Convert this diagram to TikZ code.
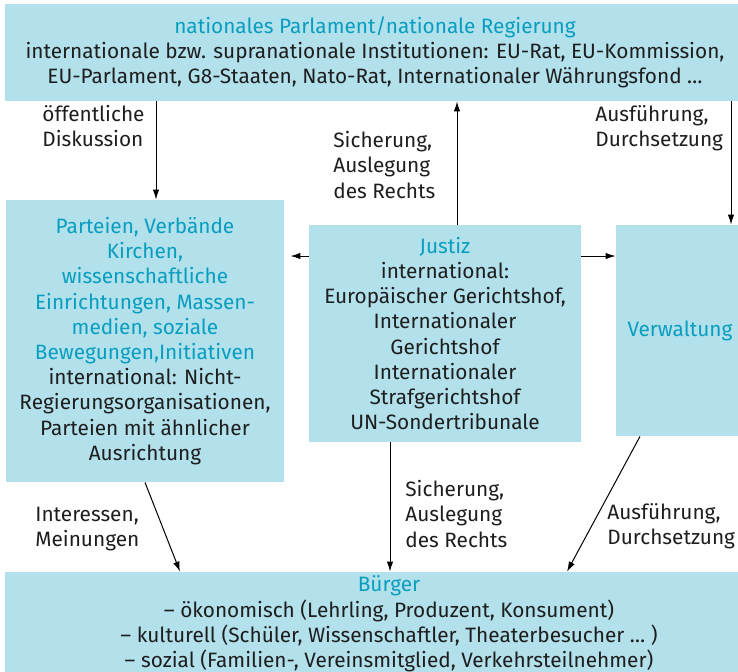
\documentclass[tikz,border=0pt]{standalone}
\usepackage{fontspec}
\setmainfont{Fira Sans}
\usetikzlibrary{arrows.meta, positioning, calc}
\definecolor{BoxFill}{RGB}{178,224,235}
\definecolor{TitleBlue}{RGB}{8,158,192}
\definecolor{TextDark}{RGB}{30,30,30}
\newcommand{\ttl}[1]{\textcolor{TitleBlue}{#1}}

\begin{document}
\begin{tikzpicture}[
    x=0.5pt, y=-0.5pt,
    every node/.style={font=\fontsize{10.4}{12.6}\selectfont, text=TextDark},
    box/.style={fill=BoxFill, draw=none, align=center, inner sep=0pt},
    lbl/.style={anchor=north west, align=left, inner sep=0pt},
    arr/.style={-{Latex[length=5pt,width=3.2pt]}, draw=black, line width=0.5pt}
  ]
    \clip (0,0) rectangle (738,671);
    % boxes
    \node[box, minimum width=370pt, minimum height=48.5pt] (parl) at (375,52.5)
      {\ttl{nationales Parlament/nationale Regierung}\\
       internationale bzw. supranationale Institutionen: EU-Rat, EU-Kommission,\\
       EU-Parlament, G8-Staaten, Nato-Rat, Internationaler Währungsfond …};
    \node[box, minimum width=139pt, minimum height=141pt] (verb) at (145,341)
      {\ttl{Parteien, Verbände}\\ \ttl{Kirchen,}\\ \ttl{wissenschaftliche}\\
       \ttl{Einrichtungen, Massen-}\\ \ttl{medien, soziale}\\
       \ttl{Bewegungen,Initiativen}\\ international: Nicht-\\
       Regierungsorganisationen,\\ Parteien mit ähnlicher\\ Ausrichtung};
    \node[box, minimum width=136pt, minimum height=108.5pt] (justiz) at (445,333.5)
      {\ttl{Justiz}\\ international:\\ Europäischer Gerichtshof,\\
       Internationaler\\ Gerichtshof\\ Internationaler\\ Strafgerichtshof\\
       UN-Sondertribunale};
    \node[box, minimum width=64pt, minimum height=105.5pt] (verw) at (680,330.5)
      {\ttl{Verwaltung}};
    \node[box, minimum width=384pt, minimum height=52pt] (buerger) at (389,624)
      {\ttl{Bürger}\\
       – ökonomisch (Lehrling, Produzent, Konsument)\\
       – kulturell (Schüler, Wissenschaftler, Theaterbesucher … )\\
       – sozial (Familien-, Vereinsmitglied, Verkehrsteilnehmer)};
    % arrows
    \draw[arr] (156,0 |- parl.south) -- (156,0 |- verb.north);
    \draw[arr] (457,0 |- justiz.north) -- (457,0 |- parl.south);
    \draw[arr] (731,0 |- parl.south) -- (731,0 |- verw.north);
    \draw[arr, shorten >=3pt] (justiz.west |- 0,256) -- (verb.east |- 0,256);
    \draw[arr] (justiz.east |- 0,256) -- (verw.west |- 0,256);
    \draw[arr] (145,0 |- verb.south) -- (180,0 |- buerger.north);
    \draw[arr] (390,0 |- justiz.south) -- (390,0 |- buerger.north);
    \draw[arr] (640,0 |- verw.south) -- (567,0 |- buerger.north);
    % labels
    \node[lbl] (l1) at (42,105) {öffentliche\\Diskussion};
    \node[lbl] (l2) at (333,131) {Sicherung,\\Auslegung\\des Rechts};
    \node[lbl] (l3) at (595,105) {Ausführung,\\Durchsetzung};
    \node[lbl] (l4) at (35,507) {Interessen,\\Meinungen};
    \node[lbl] (l5) at (405,480) {Sicherung,\\Auslegung\\des Rechts};
    \node[lbl] (l6) at (607,503) {Ausführung,\\Durchsetzung};
\end{tikzpicture}
\end{document}
